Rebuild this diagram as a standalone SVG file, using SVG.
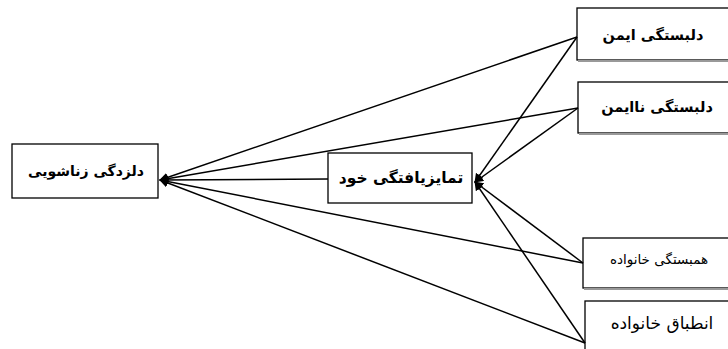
<svg xmlns="http://www.w3.org/2000/svg" width="728" height="349" viewBox="0 0 728 349">
<style>
.box{fill:#fff;stroke:#000;stroke-width:1.3}
.sh{stroke:#999;stroke-width:2;fill:none}
.t{font-family:"DejaVu Sans",sans-serif;font-size:13.5px;text-anchor:middle;fill:#000}
.b{font-weight:bold}
.c line{stroke:#000;stroke-width:1.5;marker-end:url(#ah)}
</style>
<defs>
<marker id="ah" viewBox="0 0 10 10" refX="9" refY="5" markerWidth="6" markerHeight="6" orient="auto" markerUnits="strokeWidth">
<path d="M0,0 L10,5 L0,10 Z" fill="#000"/>
</marker>
</defs>
<g id="n-zanashuyi">
<rect class="box" x="12" y="144" width="146" height="54"/>
<text class="t b" x="86" y="176" style="font-size:14px">دلزدگی زناشویی</text>
</g>
<g id="n-tamayoz">
<rect class="box" x="328" y="153" width="144" height="50"/>
<text class="t b" x="401" y="183" style="font-size:15.5px">تمایزیافتگی خود</text>
</g>
<g id="n-ayman">
<rect class="box" x="577" y="8" width="152" height="52"/>
<line class="sh" x1="578" y1="61" x2="728" y2="61"/>
<text class="t b" x="653" y="40" style="font-size:14.5px">دلبستگی ایمن</text>
</g>
<g id="n-naayman">
<rect class="box" x="578" y="82" width="151" height="51"/>
<line class="sh" x1="579" y1="134" x2="728" y2="134"/>
<text class="t b" x="657" y="112" style="font-size:14.5px">دلبستگی ناایمن</text>
</g>
<g id="n-hambastegi">
<rect class="box" x="583" y="238" width="146" height="50"/>
<line class="sh" x1="584" y1="289" x2="728" y2="289"/>
<text class="t" style="font-size:13.5px" x="659" y="264">همبستگی خانواده</text>
</g>
<g id="n-entebagh">
<rect class="box" x="585" y="301" width="146" height="52"/>
<text class="t" x="662" y="329" style="font-size:17px">انطباق خانواده</text>
</g>
<g id="connectors" class="c">
<line x1="577" y1="37" x2="160" y2="180"/>
<line x1="578" y1="108" x2="160" y2="180"/>
<line x1="328" y1="179" x2="160" y2="180"/>
<line x1="583" y1="263" x2="160" y2="180"/>
<line x1="585" y1="343" x2="160" y2="180"/>
<line x1="577" y1="37" x2="475" y2="182"/>
<line x1="578" y1="108" x2="475" y2="182"/>
<line x1="583" y1="263" x2="475" y2="182"/>
<line x1="585" y1="343" x2="475" y2="182"/>
</g>
</svg>
